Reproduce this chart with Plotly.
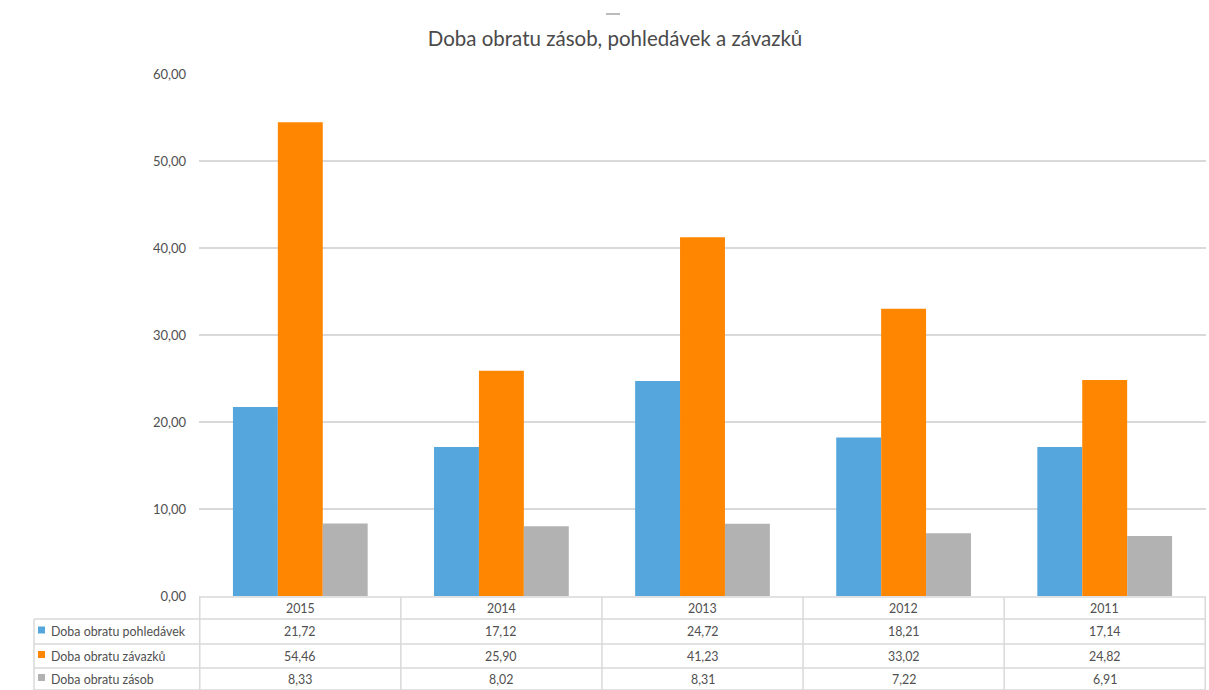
import plotly.graph_objects as go

# Data
years = ["2015", "2014", "2013", "2012", "2011"]
pohledavky = [21.72, 17.12, 24.72, 18.21, 17.14]
zavazky = [54.46, 25.90, 41.23, 33.02, 24.82]
zasoby = [8.33, 8.02, 8.31, 7.22, 6.91]
series_names = ["Doba obratu pohledávek", "Doba obratu závazků", "Doba obratu zásob"]
title_text = "Doba obratu zásob, pohledávek a závazků"
y_ticks = [0, 10, 20, 30, 40, 50, 60]

colors = ["#55A6DC", "#FF8600", "#B2B2B2"]
series_values = [pohledavky, zavazky, zasoby]

W, H = 1209, 690
L, R, T, B = 199, 3, 74, 94
plot_h = H - T - B
plot_w = W - L - R
FONT = "Lato"
TXT = "#505050"
GRID = "#D9D9D9"
TABLE_FS = 12.4


def py(pix):
    """pixel row -> paper y"""
    return (H - B - pix) / plot_h


def px(pix):
    """pixel column -> paper x"""
    return (pix - L) / plot_w


fig = go.Figure()
for name, vals, c in zip(series_names, series_values, colors):
    fig.add_trace(go.Bar(x=years, y=vals, name=name, marker=dict(color=c, line=dict(width=0))))

shapes = []
annotations = []

# data table under the chart
row_edges = [597, 619, 644, 668, 690]
row_mid = [(row_edges[i] + row_edges[i + 1]) / 2 for i in range(4)]
table_left = 34
table_right = W - R

# horizontal rules
shapes.append(dict(type="line", xref="paper", yref="paper", x0=px(L), x1=px(table_right),
                   y0=py(row_edges[0]), y1=py(row_edges[0]), line=dict(color=GRID, width=1.5)))
for e in row_edges[1:]:
    shapes.append(dict(type="line", xref="paper", yref="paper", x0=px(table_left), x1=px(table_right),
                       y0=py(e), y1=py(e), line=dict(color=GRID, width=1.5)))
# vertical rules: category boundaries
for k in range(len(years) + 1):
    shapes.append(dict(type="line", xref="x", yref="paper", x0=k - 0.5, x1=k - 0.5,
                       y0=py(row_edges[0]), y1=py(row_edges[-1]), line=dict(color=GRID, width=1.5)))
shapes.append(dict(type="line", xref="paper", yref="paper", x0=px(table_left), x1=px(table_left),
                   y0=py(row_edges[1]), y1=py(row_edges[-1]), line=dict(color=GRID, width=1.5)))

# year header
for k, yr in enumerate(years):
    annotations.append(dict(x=k, y=py(row_mid[0]), xref="x", yref="paper", text=yr, showarrow=False,
                            font=dict(family=FONT, size=TABLE_FS, color=TXT),
                            xanchor="center", yanchor="middle"))

# series rows: legend keys, names and values
for i, (name, vals, c) in enumerate(zip(series_names, series_values, colors)):
    ym = row_mid[i + 1]
    shapes.append(dict(type="rect", xref="paper", yref="paper",
                       x0=px(38), x1=px(45), y0=py(ym - 5), y1=py(ym + 2),
                       fillcolor=c, line=dict(width=0)))
    annotations.append(dict(x=px(49), y=py(ym), xref="paper", yref="paper", text=name, showarrow=False,
                            font=dict(family=FONT, size=TABLE_FS, color=TXT),
                            xanchor="left", yanchor="middle"))
    for k, v in enumerate(vals):
        annotations.append(dict(x=k, y=py(ym), xref="x", yref="paper",
                                text=f"{v:.2f}".replace(".", ","), showarrow=False,
                                font=dict(family=FONT, size=TABLE_FS, color=TXT),
                                xanchor="center", yanchor="middle"))

# small mark above the title
shapes.append(dict(type="line", xref="paper", yref="paper", x0=px(606), x1=px(620),
                   y0=py(14), y1=py(14), line=dict(color="#BBBBBB", width=2)))

fig.update_layout(
    width=W, height=H,
    margin=dict(l=L, r=R, t=T, b=B),
    paper_bgcolor="white", plot_bgcolor="white",
    separators=", ",
    barmode="group", bargap=0.33, bargroupgap=0,
    showlegend=False,
    title=dict(text=title_text, x=615 / W, xref="container", xanchor="center",
               y=1 - 39 / H, yref="container", yanchor="middle",
               font=dict(family=FONT, size=20.5, color="#4A4A4A")),
    xaxis=dict(showticklabels=False, showgrid=False, zeroline=False, showline=False, ticks=""),
    yaxis=dict(range=[0, 60], tickvals=y_ticks, tickformat=".2f",
               showgrid=True, gridcolor=GRID, gridwidth=1.5, zeroline=False, showline=False,
               tickfont=dict(family=FONT, size=13, color=TXT), ticklabelstandoff=12),
    shapes=shapes, annotations=annotations,
)

fig.write_html("out.html")
